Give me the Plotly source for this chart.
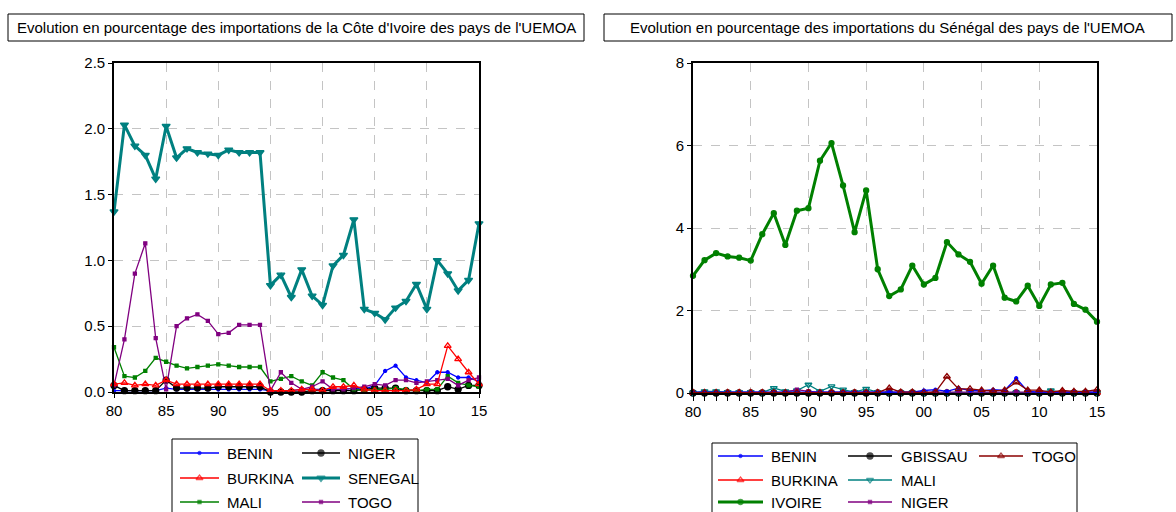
import plotly.graph_objects as go

W, H = 1176, 512
FONT = "Liberation Sans, Arial, sans-serif"

years = list(range(1980, 2016))
tick_years = [1980, 1985, 1990, 1995, 2000, 2005, 2010, 2015]
tick_text = ["80", "85", "90", "95", "00", "05", "10", "15"]

# Côte d'Ivoire: share of imports from UEMOA partners (%)
ci_benin = [0.01, 0.01, 0.01, 0.01, 0.01, 0.03, 0.02, 0.02, 0.02, 0.02, 0.02, 0.02, 0.02, 0.02, 0.02,
            0.01, 0.01, 0.01, 0.02, 0.02, 0.02, 0.02, 0.02, 0.03, 0.02,
            0.05, 0.16, 0.20, 0.11, 0.09, 0.07, 0.15, 0.15, 0.11, 0.11, 0.08]
ci_niger = [0.05, 0.01, 0.01, 0.01, 0.01, 0.09, 0.03, 0.03, 0.03, 0.03, 0.04, 0.04, 0.04, 0.04, 0.04,
            0.00, 0.00, 0.00, 0.00, 0.01, 0.01, 0.01, 0.01, 0.01, 0.02,
            0.03, 0.03, 0.03, 0.01, 0.01, 0.01, 0.01, 0.04, 0.02, 0.05, 0.05]
ci_burkina = [0.06, 0.07, 0.05, 0.06, 0.05, 0.09, 0.06, 0.06, 0.06, 0.06, 0.06, 0.06, 0.06, 0.06, 0.06,
              0.01, 0.01, 0.01, 0.02, 0.02, 0.01, 0.04, 0.04, 0.05, 0.02,
              0.01, 0.01, 0.01, 0.01, 0.02, 0.06, 0.06, 0.35, 0.25, 0.15, 0.06]
ci_senegal = [1.37, 2.03, 1.87, 1.80, 1.62, 2.02, 1.78, 1.85, 1.82, 1.81, 1.80, 1.84, 1.82, 1.82, 1.82,
              0.81, 0.89, 0.72, 0.93, 0.73, 0.66, 0.96, 1.04, 1.31, 0.63,
              0.60, 0.55, 0.64, 0.69, 0.82, 0.63, 1.00, 0.90, 0.77, 0.85, 1.28]
ci_mali = [0.34, 0.12, 0.11, 0.16, 0.26, 0.23, 0.20, 0.18, 0.19, 0.20, 0.21, 0.20, 0.19, 0.19, 0.19,
           0.08, 0.10, 0.12, 0.08, 0.05, 0.15, 0.11, 0.09, 0.02, 0.01,
           0.02, 0.02, 0.03, 0.02, 0.01, 0.02, 0.02, 0.12, 0.07, 0.05, 0.04]
ci_togo = [0.05, 0.40, 0.90, 1.13, 0.41, 0.02, 0.50, 0.56, 0.59, 0.54, 0.44, 0.45, 0.51, 0.51, 0.51,
           0.01, 0.15, 0.07, 0.02, 0.04, 0.08, 0.02, 0.02, 0.03, 0.04,
           0.06, 0.05, 0.09, 0.09, 0.07, 0.08, 0.09, 0.10, 0.05, 0.09, 0.11]

# Sénégal: share of imports from UEMOA partners (%)
sn_benin = [0.02, 0.02, 0.02, 0.02, 0.02, 0.02, 0.02, 0.02, 0.02, 0.02, 0.02, 0.02, 0.02, 0.02, 0.02,
            0.02, 0.02, 0.02, 0.02, 0.02, 0.06, 0.08, 0.04, 0.12, 0.06,
            0.05, 0.08, 0.06, 0.36, 0.04, 0.02, 0.02, 0.02, 0.02, 0.02, 0.02]
sn_gbissau = [0.00, 0.00, 0.00, 0.00, 0.00, 0.00, 0.00, 0.00, 0.00, 0.00, 0.00, 0.00, 0.00, 0.00, 0.00,
              0.00, 0.00, 0.00, 0.00, 0.00, 0.00, 0.00, 0.00, 0.00, 0.00,
              0.00, 0.00, 0.00, 0.00, 0.00, 0.00, 0.00, 0.00, 0.00, 0.00, 0.00]
sn_togo = [0.01, 0.01, 0.01, 0.01, 0.01, 0.01, 0.01, 0.01, 0.01, 0.01, 0.01, 0.01, 0.01, 0.01, 0.01,
           0.01, 0.01, 0.12, 0.02, 0.02, 0.01, 0.02, 0.40, 0.10, 0.10,
           0.07, 0.05, 0.07, 0.26, 0.07, 0.07, 0.02, 0.06, 0.04, 0.04, 0.08]
sn_burkina = [0.01, 0.01, 0.01, 0.01, 0.01, 0.01, 0.01, 0.01, 0.01, 0.01, 0.01, 0.01, 0.01, 0.01, 0.01,
              0.01, 0.01, 0.01, 0.01, 0.01, 0.01, 0.01, 0.01, 0.01, 0.01,
              0.01, 0.01, 0.01, 0.01, 0.01, 0.01, 0.01, 0.01, 0.01, 0.01, 0.01]
sn_mali = [0.01, 0.04, 0.04, 0.02, 0.02, 0.02, 0.01, 0.12, 0.04, 0.06, 0.20, 0.04, 0.16, 0.08, 0.02,
           0.10, 0.02, 0.01, 0.01, 0.01, 0.00, 0.00, 0.00, 0.00, 0.01,
           0.01, 0.01, 0.01, 0.01, 0.01, 0.01, 0.06, 0.01, 0.01, 0.01, 0.01]
sn_ivoire = [2.84, 3.22, 3.39, 3.31, 3.28, 3.21, 3.85, 4.36, 3.59, 4.42, 4.48, 5.63, 6.06, 5.03, 3.90,
             4.91, 3.00, 2.35, 2.51, 3.09, 2.63, 2.79, 3.66, 3.36, 3.18,
             2.65, 3.09, 2.31, 2.22, 2.60, 2.11, 2.63, 2.67, 2.16, 2.02, 1.73]
sn_niger = [0.01, 0.01, 0.01, 0.01, 0.01, 0.01, 0.01, 0.01, 0.02, 0.08, 0.04, 0.02, 0.02, 0.02, 0.02,
            0.02, 0.02, 0.02, 0.02, 0.02, 0.02, 0.02, 0.02, 0.02, 0.02,
            0.02, 0.02, 0.02, 0.02, 0.02, 0.02, 0.02, 0.02, 0.02, 0.02, 0.02]

# series styles: name -> (colour, line width, marker symbol, marker size)
STY = {
    "BENIN": ("#0000ff", 1.3, "circle", 3),
    "NIGER_L": ("#000000", 1.3, "circle", 6),
    "BURKINA": ("#ff0000", 1.3, "triangle-up-open", 6),
    "SENEGAL": ("#008080", 3.0, "triangle-down", 7),
    "MALI_L": ("#008000", 1.3, "square", 3),
    "TOGO_L": ("#800080", 1.3, "square", 3),
    "GBISSAU": ("#000000", 1.3, "circle", 6),
    "TOGO_R": ("#8b0000", 1.3, "triangle-up-open", 6),
    "MALI_R": ("#008080", 1.3, "triangle-down-open", 6),
    "IVOIRE": ("#008000", 3.0, "circle", 5),
    "NIGER_R": ("#800080", 1.3, "square", 3),
}


def px_x(p):
    return p / W


def px_y(p):
    return 1 - p / H


fig = go.Figure()


def add_series(y, key, xa, ya):
    col, lw, sym, ms = STY[key]
    fig.add_trace(go.Scatter(
        x=years, y=y, xaxis=xa, yaxis=ya, mode="lines+markers",
        line=dict(color=col, width=lw),
        marker=dict(symbol=sym, size=ms, color=col, line=dict(color=col, width=1.3)),
        cliponaxis=False, showlegend=False, hoverinfo="x+y"))


# left panel
add_series(ci_benin, "BENIN", "x", "y")
add_series(ci_niger, "NIGER_L", "x", "y")
add_series(ci_mali, "MALI_L", "x", "y")
add_series(ci_togo, "TOGO_L", "x", "y")
add_series(ci_burkina, "BURKINA", "x", "y")
add_series(ci_senegal, "SENEGAL", "x", "y")

# right panel
add_series(sn_ivoire, "IVOIRE", "x2", "y2")
add_series(sn_gbissau, "GBISSAU", "x2", "y2")
add_series(sn_burkina, "BURKINA", "x2", "y2")
add_series(sn_mali, "MALI_R", "x2", "y2")
add_series(sn_niger, "NIGER_R", "x2", "y2")
add_series(sn_benin, "BENIN", "x2", "y2")
add_series(sn_togo, "TOGO_R", "x2", "y2")

axis_common = dict(
    showline=True, linecolor="black", linewidth=1.6, mirror=True,
    ticks="outside", ticklen=4, tickcolor="black", tickwidth=1,
    showgrid=True, gridcolor="#c4c4c4", griddash="dash", gridwidth=1,
    zeroline=False, automargin=False,
    tickfont=dict(family=FONT, size=15, color="black"),
)

fig.update_layout(
    width=W, height=H, margin=dict(l=0, r=0, t=0, b=0, pad=0),
    paper_bgcolor="white", plot_bgcolor="rgba(0,0,0,0)",
    showlegend=False,
    xaxis=dict(axis_common, domain=[px_x(114), px_x(479)], range=[1980, 2015],
               tickmode="array", tickvals=tick_years, ticktext=tick_text, anchor="y"),
    yaxis=dict(axis_common, domain=[px_y(392), px_y(63)], range=[0, 2.5],
               tickmode="array", tickvals=[0, 0.5, 1.0, 1.5, 2.0, 2.5],
               ticktext=["0.0", "0.5", "1.0", "1.5", "2.0", "2.5"], anchor="x"),
    xaxis2=dict(axis_common, domain=[px_x(693), px_x(1097)], range=[1980, 2015],
                tickmode="array", tickvals=tick_years, ticktext=tick_text, anchor="y2",
                minor=dict(tickmode="linear", tick0=1980, dtick=1, ticks="outside",
                           ticklen=6, tickcolor="black", showgrid=False)),
    yaxis2=dict(axis_common, domain=[px_y(393), px_y(63)], range=[0, 8],
                tickmode="array", tickvals=[0, 2, 4, 6, 8], anchor="x2"),
)

# title boxes
titles = [
    (8, 584, "Evolution en pourcentage des importations de la Côte d'Ivoire des pays de l'UEMOA"),
    (604, 1172, "Evolution en pourcentage des importations du Sénégal des pays de l'UEMOA"),
]
for x0, x1, txt in titles:
    fig.add_shape(type="rect", xref="paper", yref="paper",
                  x0=px_x(x0), x1=px_x(x1), y0=px_y(41), y1=px_y(14),
                  line=dict(color="black", width=1), fillcolor="white", layer="above")
    fig.add_annotation(xref="paper", yref="paper", x=px_x((x0 + x1) / 2), y=px_y(27.5),
                       text=txt, showarrow=False, xanchor="center", yanchor="middle",
                       font=dict(family=FONT, size=15, color="black"))

# legends drawn in their own boxes
legend_specs = [
    # box (x0, x1, y0), entries: (label, style key, line x0, line x1, text x, row y)
    ((172, 418, 439), [
        ("BENIN", "BENIN", 180, 219, 225, 453),
        ("BURKINA", "BURKINA", 180, 219, 225, 478),
        ("MALI", "MALI_L", 180, 219, 225, 502),
        ("NIGER", "NIGER_L", 302, 340, 346, 453),
        ("SENEGAL", "SENEGAL", 302, 340, 346, 478),
        ("TOGO", "TOGO_L", 302, 340, 346, 502),
    ], "x3", "y3"),
    ((712, 1077, 443), [
        ("BENIN", "BENIN", 718, 763, 769, 456),
        ("BURKINA", "BURKINA", 718, 763, 769, 480),
        ("IVOIRE", "IVOIRE", 718, 763, 769, 502),
        ("GBISSAU", "GBISSAU", 848, 892, 899, 456),
        ("MALI", "MALI_R", 848, 892, 899, 480),
        ("NIGER", "NIGER_R", 848, 892, 899, 502),
        ("TOGO", "TOGO_R", 979, 1023, 1030, 456),
    ], "x4", "y4"),
]
for (bx0, bx1, by0), entries, xa, ya in legend_specs:
    fig.add_shape(type="rect", xref="paper", yref="paper",
                  x0=px_x(bx0), x1=px_x(bx1), y0=px_y(H + 10), y1=px_y(by0),
                  line=dict(color="black", width=1), fillcolor="rgba(0,0,0,0)")
    n = xa[1:]
    fig.layout["xaxis" + n] = dict(domain=[0, 1], range=[0, W], visible=False,
                                   automargin=False, anchor=ya)
    fig.layout["yaxis" + n] = dict(domain=[0, 1], range=[H, 0], visible=False,
                                   automargin=False, anchor=xa)
    for label, key, lx0, lx1, tx, ry in entries:
        col, lw, sym, ms = STY[key]
        fig.add_trace(go.Scatter(
            x=[lx0, (lx0 + lx1) / 2, lx1], y=[ry, ry, ry], xaxis=xa, yaxis=ya,
            mode="lines+markers", line=dict(color=col, width=lw),
            marker=dict(symbol=sym, size=[0, ms, 0], color=col,
                        line=dict(color=col, width=1.3)),
            showlegend=False, hoverinfo="skip", cliponaxis=False))
        fig.add_annotation(xref="paper", yref="paper", x=px_x(tx), y=px_y(ry),
                           text=label, showarrow=False, xanchor="left", yanchor="middle",
                           font=dict(family=FONT, size=15, color="black"))

fig.write_html("out.html", post_script="document.body.style.margin='0';")
